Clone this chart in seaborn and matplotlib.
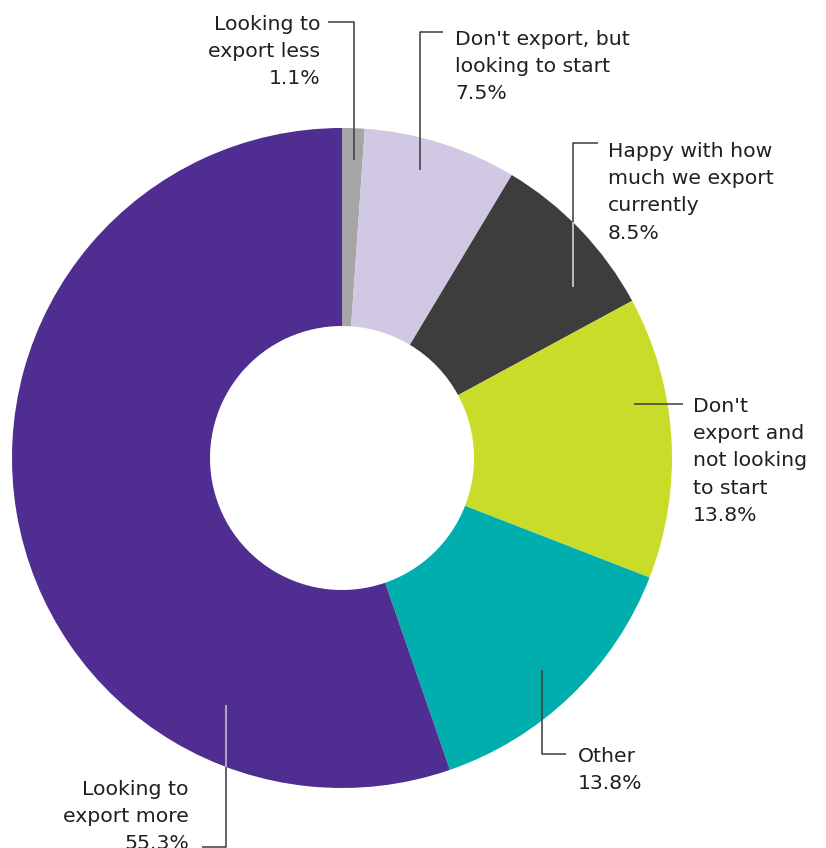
import matplotlib
matplotlib.use("Agg")
import matplotlib.pyplot as plt
import seaborn as sns
import numpy as np

# Survey answers: export intentions
categories = [
    "Looking to export less",
    "Don't export, but looking to start",
    "Happy with how much we export currently",
    "Don't export and not looking to start",
    "Other",
    "Looking to export more",
]
shares = [1.1, 7.5, 8.5, 13.8, 13.8, 55.3]
label_lines = [
    ["Looking to", "export less"],
    ["Don't export, but", "looking to start"],
    ["Happy with how", "much we export", "currently"],
    ["Don't", "export and", "not looking", "to start"],
    ["Other"],
    ["Looking to", "export more"],
]
colors = ["#a5a5a5", "#d1c8e4", "#3d3d3d", "#c9dc2a", "#00afad", "#4f2d91"]

sns.set_theme(style="white")
plt.rcParams["font.family"] = ["DejaVu Sans"]

W, H = 826, 848
fig = plt.figure(figsize=(W / 100, H / 100), dpi=100)
ax = fig.add_axes([0, 0, 1, 1])


def Y(y):
    # pixel row (top-down) to axis coordinate (bottom-up)
    return H - y


cx, cy, R, hole = 342, 458, 330, 132
ax.pie(shares, colors=colors, startangle=90, counterclock=False,
       radius=R, center=(cx, Y(cy)), frame=True,
       wedgeprops=dict(width=R - hole, linewidth=0))
ax.set_xlim(0, W)
ax.set_ylim(0, H)
ax.set_aspect("equal")
ax.axis("off")

dark = "#3a3a3a"
txt = "#231f20"
fs = 14.7
step = 27.2

# leader polylines (pixel rows), with the light inner segment for dark wedges
leaders = [
    dict(pts=[(328, 22), (354, 22), (354, 160)]),
    dict(pts=[(443, 32), (420, 32), (420, 170)]),
    dict(pts=[(598, 143), (573, 143), (573, 287)], light="#e2e2e2"),
    dict(pts=[(634, 404), (683, 404)]),
    dict(pts=[(542, 670), (542, 754), (566, 754)]),
    dict(pts=[(202, 847), (226, 847), (226, 705)], light="#cfc6e6"),
]


def circle_cross(x, y0, y1):
    dy = np.sqrt(max(R ** 2 - (x - cx) ** 2, 0))
    for yc in (cy - dy, cy + dy):
        if min(y0, y1) <= yc <= max(y0, y1):
            return yc
    return None


for ld in leaders:
    pts = ld["pts"]
    xs = [p[0] for p in pts]
    ys = [Y(p[1]) for p in pts]
    ax.plot(xs, ys, color=dark, lw=1.1, solid_capstyle="butt", zorder=3)
    if "light" in ld:
        (xa, ya), (xb, yb) = pts[-2], pts[-1]
        yc = circle_cross(xb, ya, yb)
        ax.plot([xb, xb], [Y(yc), Y(yb)], color=ld["light"], lw=1.1,
                solid_capstyle="butt", zorder=4)

# label blocks: anchor x, first baseline row, alignment
anchors = [
    (320, 30, "right"),
    (455, 45, "left"),
    (608, 157, "left"),
    (693, 412, "left"),
    (578, 762, "left"),
    (189, 795, "right"),
]
for lines, val, (x, y0, ha) in zip(label_lines, shares, anchors):
    rows = lines + [f"{val:.1f}%"]
    for i, s in enumerate(rows):
        ax.text(x, Y(y0 + i * step), s, ha=ha, va="baseline",
                fontsize=fs, color=txt, zorder=5)

fig.savefig("out.png", dpi=100)
